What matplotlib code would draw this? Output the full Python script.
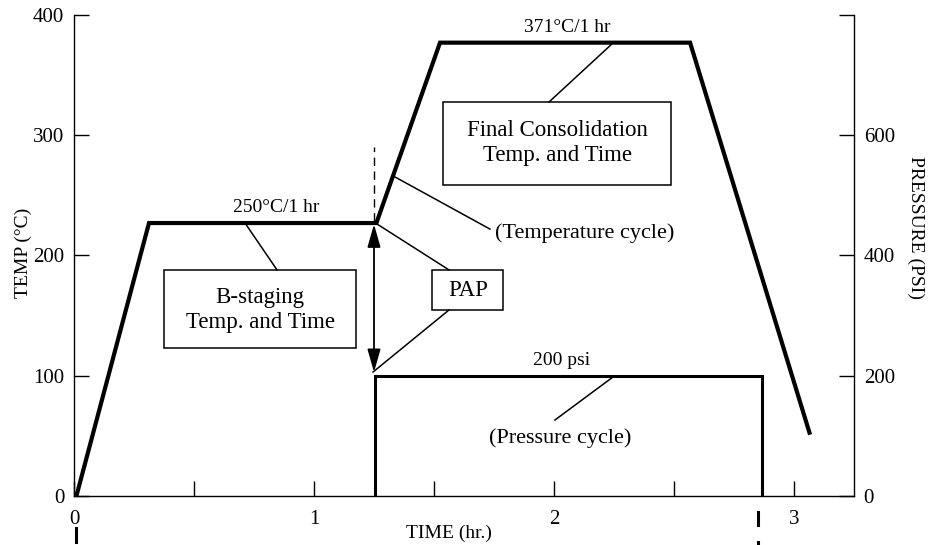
import matplotlib
matplotlib.use("Agg")
import matplotlib.pyplot as plt
from matplotlib.patches import Rectangle

plt.rcParams['font.family'] = ['Liberation Serif', 'DejaVu Serif']

# ---- data ----
time_temp = [0.01, 0.3125, 1.26, 1.525, 2.567, 3.067]
temp_c = [0, 227, 227, 377, 377, 51]
time_press = [1.255, 1.255, 2.858, 2.865, 2.865]
press_psi = [0, 200, 200, 200, 0]
x_major = [0, 1, 2, 3]
x_minor = [0.5, 1.5, 2.5]
temp_ticks = [0, 100, 200, 300, 400]
press_ticks = [0, 200, 400, 600, 800]
press_ticklabels = ['0', '200', '400', '600', '']

fig = plt.figure(figsize=(9.3, 5.45), dpi=100)
ax = fig.add_axes([74/930, 49/545, 780/930, 481/545])
ax2 = ax.twinx()

ax.set_xlim(0, 3.25)
ax.set_ylim(0, 400)
ax2.set_ylim(0, 800)

for s in ['top', 'right']:
    ax.spines[s].set_visible(False)
for s in ['top', 'left', 'bottom']:
    ax2.spines[s].set_visible(False)
for sp in list(ax.spines.values()) + list(ax2.spines.values()):
    sp.set_linewidth(1.0)

ax.set_xticks(x_major)
ax.set_xticks(x_minor, minor=True)
ax.set_yticks(temp_ticks)
ax2.set_yticks(press_ticks)
ax2.set_yticklabels(press_ticklabels)

ax.tick_params(axis='y', which='both', direction='in', length=11, width=1,
               labelsize=15, pad=7, right=False)
ax.tick_params(axis='x', which='both', direction='in', length=11, width=1,
               labelsize=15, pad=10, top=False)
ax2.tick_params(axis='y', direction='in', length=11, width=1, labelsize=15, pad=7)

# temperature cycle
ax.plot(time_temp, temp_c, color='black', lw=3.0, solid_joinstyle='miter',
        solid_capstyle='butt', clip_on=False, zorder=5)
# pressure cycle
ax2.plot(time_press, press_psi, color='black', lw=2.2, solid_joinstyle='miter',
         solid_capstyle='butt', clip_on=False, zorder=5)

k = 'black'
# dashed vertical above PAP
ax.plot([1.25, 1.25], [229, 290], color=k, lw=1.0, ls=(0, (6, 4)))
# double arrow
ax.annotate('', xy=(1.25, 226), xytext=(1.25, 103),
            arrowprops=dict(arrowstyle='<|-|>,head_length=1.4,head_width=0.4',
                            mutation_scale=10, lw=1.3, color=k,
                            shrinkA=0, shrinkB=0))

# boxes
def box(x0, x1, y0, y1):
    ax.add_patch(Rectangle((x0, y0), x1 - x0, y1 - y0, fill=False,
                           lw=1.1, edgecolor=k, zorder=4))

box(0.375, 1.175, 123, 188)        # B-staging
box(1.492, 1.7875, 154.7, 188)     # PAP
box(1.5375, 2.4875, 258.6, 327.6)  # Final

ax.text(0.775, 154.7, 'B-staging\nTemp. and Time', ha='center', va='center',
        fontsize=16.5, linespacing=1.25)
ax.text(1.642, 171.3, 'PAP', ha='center', va='center', fontsize=16.5)
ax.text(2.0125, 293.6, 'Final Consolidation\nTemp. and Time', ha='center',
        va='center', fontsize=16.5, linespacing=1.25)

# leader lines
leaders = [
    ((0.846, 188), (0.7125, 227)),
    ((1.5625, 188), (1.2625, 226.2)),
    ((1.5625, 154.7), (1.246, 103.1)),
    ((1.3375, 265.3), (1.733, 222)),
    ((1.979, 327.6), (2.25, 377.5)),
    ((2.246, 99), (2.004, 63.2)),
]
for (xa, ya), (xb, yb) in leaders:
    ax.plot([xa, xb], [ya, yb], color=k, lw=1.1)

ax.text(0.842, 240.3, '250°C/1 hr', ha='center', va='center', fontsize=14)
ax.text(2.054, 390, '371°C/1 hr', ha='center', va='center', fontsize=14)
ax.text(1.754, 218.7, '(Temperature cycle)', ha='left', va='center', fontsize=16)
ax.text(2.033, 112.3, '200 psi', ha='center', va='center', fontsize=14)
ax.text(2.025, 48.2, '(Pressure cycle)', ha='center', va='center', fontsize=16)

# dash marks below the axis
ax.plot([0.008, 0.008], [-26.6, -38.3], color=k, lw=2.2, clip_on=False)
ax.plot([2.85, 2.85], [-13.3, -24.1], color=k, lw=2.2, clip_on=False)
ax.plot([2.85, 2.85], [-38.5, -45], color=k, lw=2.2, clip_on=False)

# axis labels
fig.text(449/930, 1 - 533/545, 'TIME (hr.)', ha='center', va='center', fontsize=14)
fig.text(23/930, 1 - 253/545, 'TEMP (°C)', ha='center', va='center',
         rotation=90, fontsize=14)
fig.text(916/930, 1 - 228/545, 'PRESSURE (PSI)', ha='center', va='center',
         rotation=270, fontsize=14)

fig.savefig('out.png', dpi=100)
